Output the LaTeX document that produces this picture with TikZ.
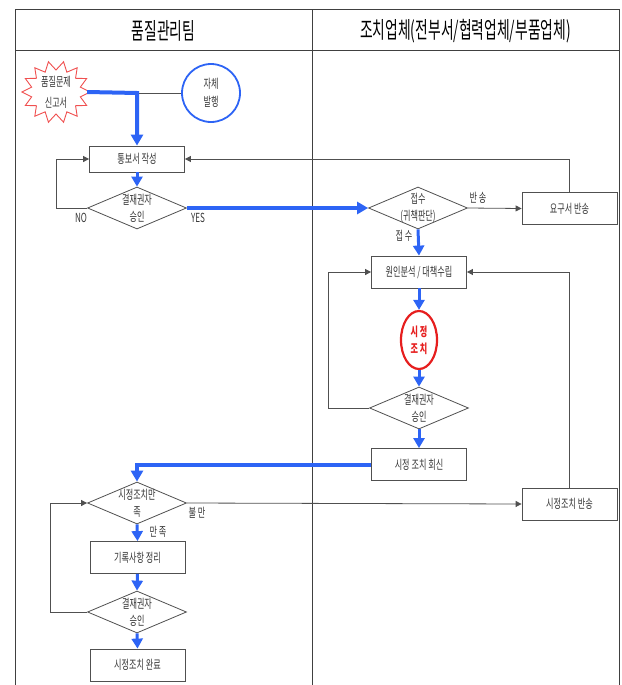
\documentclass[tikz,border=0pt]{standalone}
\usepackage{fontspec}
\newfontfamily\kr[FakeStretch=0.65]{Noto Sans CJK KR}
\newfontfamily\krh[FakeStretch=0.6]{Noto Sans CJK KR}
\usetikzlibrary{shapes.geometric,arrows.meta,calc}
\definecolor{flowblue}{RGB}{45,100,245}
\definecolor{lgray}{RGB}{80,80,80}
\definecolor{tgray}{RGB}{55,55,55}
\definecolor{alarm}{RGB}{230,30,30}
\definecolor{burstred}{RGB}{240,80,80}
\tikzset{
  hdr/.style={font=\krh\fontsize{23}{26}\selectfont, text=black, inner sep=0pt},
  box/.style={draw=lgray, line width=0.8pt, fill=white, minimum width=95pt, minimum height=32pt, inner sep=0pt, font=\kr\fontsize{12.5}{17}\selectfont, text=tgray},
  dia/.style={diamond, aspect=2.36, draw=lgray, line width=0.8pt, fill=white, minimum width=99pt, minimum height=42pt, inner sep=-2pt, align=center, font=\kr\fontsize{12.5}{17}\selectfont, text=tgray},
  lbl/.style={font=\kr\fontsize{12.5}{14}\selectfont, text=tgray, inner sep=0pt},
  flow/.style={draw=lgray, line width=0.8pt, -{Triangle[width=6pt,length=6pt]}},
  thin/.style={draw=lgray, line width=0.8pt},
  barrow/.style={draw=flowblue, line width=3pt, -{Triangle[width=11pt,length=10pt]}},
  broute/.style={draw=flowblue, line width=4pt, -{Triangle[width=12pt,length=11pt]}},
}
\begin{document}
\begin{tikzpicture}[x=1pt,y=-1pt]
\useasboundingbox (0,0) rectangle (621,685);
% frame
\draw[black!75, line width=1pt] (15,685) -- (15,10) -- (619,10) -- (619,685);
\draw[black!75, line width=1pt] (15,51) -- (619,51);
\draw[black!75, line width=1pt] (312,10) -- (312,685);
\node[hdr] (h1) at (163.5,31) {품질관리팀};
\node[hdr] (h2) at (465.5,31) {조치업체(전부서/협력업체/부품업체)};

% starburst
\draw[burstred, line width=0.9pt, fill=white] (90,92)
  \foreach \i in {1,...,27}{ -- ({56+(34-9*mod(\i,2))*cos(\i*360/28)},{92+(31-9*mod(\i,2))*sin(\i*360/28)}) } -- cycle;
\node[font=\kr\fontsize{12.5}{21}\selectfont, text=tgray, align=center, inner sep=0pt, minimum width=62pt, minimum height=52pt] (burst) at (56,92) {품질문제\\신고서};
\node[circle, draw=flowblue, line width=1.8pt, minimum size=58pt, inner sep=0pt, align=center, font=\kr\fontsize{12.5}{18}\selectfont, text=tgray] (self) at (211,93) {자체\\발행};
\coordinate (c0) at (137,93);

% left lane top
\node[box, minimum height=26pt] (tb) at (137,159) {통보서 작성};
\node[dia] (d1) at (137,208) {결재권자\\승인};
% right lane
\node[dia] (d2) at (418,208) {접수\\(귀책판단)};
\node[box] (req) at (569.5,208.5) {요구서 반송};
\node[box] (cause) at (419,272) {원인분석 / 대책수립};
\node[ellipse, draw=alarm, line width=2.2pt, minimum width=36pt, minimum height=58pt, inner sep=0pt, align=center, text=alarm, font=\kr\bfseries\fontsize{12.5}{17}\selectfont] (fix) at (419,340) {시 정\\조 치};
\node[dia] (d3) at (419,408) {결재권자\\승인};
\node[box] (reply) at (419,464.5) {시정 조치 회신};
\node[box] (ret) at (569.5,504) {시정조치 반송};
% left lane bottom
\node[dia] (d4) at (137,503) {시정조치만\\족};
\node[box] (rec) at (137.5,557.5) {기록사항 정리};
\node[dia] (d5) at (137,612) {결재권자\\승인};
\node[box] (done) at (137.5,665) {시정조치 완료};

% connectors
\draw[thin] (self.west) -- (c0);
\draw[broute] (burst.east) -- (c0) -- (tb.north);
\draw[barrow] (tb.south) -- (d1.north);
\coordinate (l1) at (56,208);
\draw[flow] (d1.west) -- (l1) |- (tb.west);
\draw[broute] (d1.east) -- (d2.west);
\draw[flow] (d2.east) -- (req.west);
\draw[flow] (req.north) |- (tb.east);
\draw[barrow] (d2.south) -- (cause.north);
\draw[barrow] (cause.south) -- (fix.north);
\draw[barrow] (fix.south) -- (d3.north);
\coordinate (l2) at (328,408);
\draw[flow] (d3.west) -- (l2) |- (cause.west);
\draw[barrow] (d3.south) -- (reply.north);
\draw[broute] (reply.west) -| (d4.north);
\draw[flow] (d4.east) -- (ret.west);
\draw[flow] (ret.north) |- (cause.east);
\draw[barrow] (d4.south) -- (rec.north);
\draw[barrow] (rec.south) -- (d5.north);
\coordinate (l3) at (50,612);
\draw[flow] (d5.west) -- (l3) |- (d4.west);
\draw[barrow] (d5.south) -- (done.north);

% labels
\node[lbl] (tno) at (81,218) {NO};
\node[lbl] (tyes) at (198,218) {YES};
\node[lbl] (tban) at (478,198) {반 송};
\node[lbl] (tjeop) at (404,236) {접 수};
\node[lbl] (tbul) at (197,513) {불 만};
\node[lbl] (tman) at (158,532) {만 족};
\end{tikzpicture}
\end{document}
